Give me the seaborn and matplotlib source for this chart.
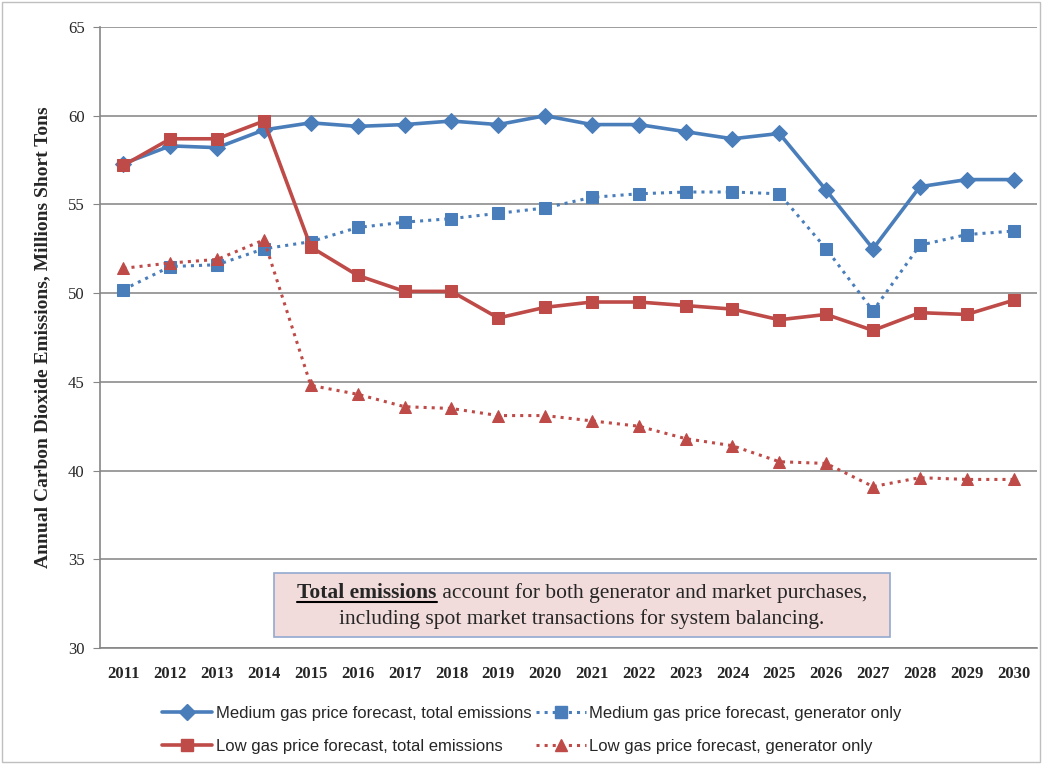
"""
Annual CO2 emissions under medium / low gas price forecasts
"""

import pandas as pd
import matplotlib.pyplot as plt
import seaborn as sns
from matplotlib.patches import Rectangle
from matplotlib.lines import Line2D

years = list(range(2011, 2031))
medium_total = [57.3, 58.3, 58.2, 59.2, 59.6, 59.4, 59.5, 59.7, 59.5, 60.0,
                59.5, 59.5, 59.1, 58.7, 59.0, 55.8, 52.5, 56.0, 56.4, 56.4]
medium_gen = [50.2, 51.5, 51.6, 52.5, 52.9, 53.7, 54.0, 54.2, 54.5, 54.8,
              55.4, 55.6, 55.7, 55.7, 55.6, 52.5, 49.0, 52.7, 53.3, 53.5]
low_total = [57.2, 58.7, 58.7, 59.7, 52.6, 51.0, 50.1, 50.1, 48.6, 49.2,
             49.5, 49.5, 49.3, 49.1, 48.5, 48.8, 47.9, 48.9, 48.8, 49.6]
low_gen = [51.4, 51.7, 51.9, 53.0, 44.8, 44.3, 43.6, 43.5, 43.1, 43.1,
           42.8, 42.5, 41.8, 41.4, 40.5, 40.4, 39.1, 39.6, 39.5, 39.5]

BLUE = "#4a7ebb"
RED = "#be4b48"

series = [
    ("Medium gas price forecast, total emissions", medium_total, BLUE, "-", "D", 8),
    ("Medium gas price forecast, generator only", medium_gen, BLUE, ":", "s", 9),
    ("Low gas price forecast, total emissions", low_total, RED, "-", "s", 9),
    ("Low gas price forecast, generator only", low_gen, RED, ":", "^", 9),
]

sns.set_style("white")
serif = "Liberation Serif"

fig = plt.figure(figsize=(10.42, 7.64), dpi=100)
ax = fig.add_axes([100 / 1042, 1 - 648 / 764, 937 / 1042, 621 / 764])

handles = {}
for label, vals, color, ls, mk, ms in series:
    df = pd.DataFrame({"year": years, "value": vals})
    sns.lineplot(data=df, x="year", y="value", ax=ax, color=color,
                 linestyle=ls, linewidth=2.6 if ls == "-" else 2.2,
                 marker=mk, markersize=ms, markeredgecolor=color,
                 dashes=False if ls == "-" else (0.6, 1.6), legend=False)
    handles[label] = Line2D([], [], color=color, linestyle=ls,
                            linewidth=2.6 if ls == "-" else 2.2,
                            marker=mk, markersize=ms, markeredgecolor=color)

ax.set_xlim(2010.5, 2030.5)
ax.set_ylim(30, 65)
ax.set_yticks(range(30, 66, 5))
ax.set_xticks(years)
ax.set_xticks([y + 0.5 for y in range(2010, 2031)], minor=True)
ax.tick_params(axis="x", which="major", length=0, pad=13)
ax.tick_params(axis="x", which="minor", length=5, color="#868686", direction="out")
ax.tick_params(axis="y", length=5, color="#868686", direction="out", left=True, pad=6)
ax.grid(axis="y", color="#8c8c8c", linewidth=1.2)
ax.set_axisbelow(True)
for side in ["top", "right"]:
    ax.spines[side].set_visible(False)
for side in ["left", "bottom"]:
    ax.spines[side].set_color("#868686")
    ax.spines[side].set_linewidth(1.2)

for lbl in ax.get_xticklabels():
    lbl.set_fontfamily(serif)
    lbl.set_fontweight("bold")
    lbl.set_fontsize(12)
for lbl in ax.get_yticklabels():
    lbl.set_fontfamily(serif)
    lbl.set_fontsize(12)

ax.set_xlabel("")
ax.set_ylabel("Annual Carbon Dioxide Emissions, Millions Short Tons",
              fontfamily=serif, fontweight="bold", fontsize=14, labelpad=12)

# annotation box
box = Rectangle((274 / 1042, 1 - 637 / 764), 616 / 1042, 64 / 764,
                transform=fig.transFigure, facecolor="#f2dcdb",
                edgecolor="#93a9cf", linewidth=1.2, zorder=5)
fig.patches.append(box)

fs = 15.5
renderer = fig.canvas.get_renderer()
t_bold = fig.text(0, 0, "Total emissions", fontfamily=serif, fontweight="bold",
                  fontsize=fs, va="baseline", zorder=6)
t_reg = fig.text(0, 0, " account for both generator and market purchases,",
                 fontfamily=serif, fontsize=fs, va="baseline", zorder=6)
wb = t_bold.get_window_extent(renderer).width / 1042
wr = t_reg.get_window_extent(renderer).width / 1042
x0 = (274 + 616 / 2) / 1042 - (wb + wr) / 2
yb = 1 - 598 / 764
t_bold.set_position((x0, yb))
t_reg.set_position((x0 + wb, yb))
fig.add_artist(Line2D([x0, x0 + wb], [yb - 4 / 764, yb - 4 / 764],
                      transform=fig.transFigure, color="black", linewidth=1.5,
                      zorder=6))
fig.text((274 + 616 / 2) / 1042, 1 - 624 / 764,
         "including spot market transactions for system balancing.",
         fontfamily=serif, fontsize=fs, ha="center", va="baseline", zorder=6)

order = [series[0][0], series[2][0], series[1][0], series[3][0]]
fig.legend([handles[k] for k in order], order, loc="center",
           bbox_to_anchor=(532 / 1042, 1 - 730 / 764), ncol=2, frameon=False,
           prop={"family": "Liberation Sans", "size": 12}, handlelength=3.0,
           columnspacing=0.3, handletextpad=0.2, labelspacing=1.05)

# outer chart border
fig.patches.append(Rectangle((0.002, 0.002), 0.996, 0.996, transform=fig.transFigure,
                             fill=False, edgecolor="#bfbfbf", linewidth=1))

fig.savefig("out.png", dpi=100)
